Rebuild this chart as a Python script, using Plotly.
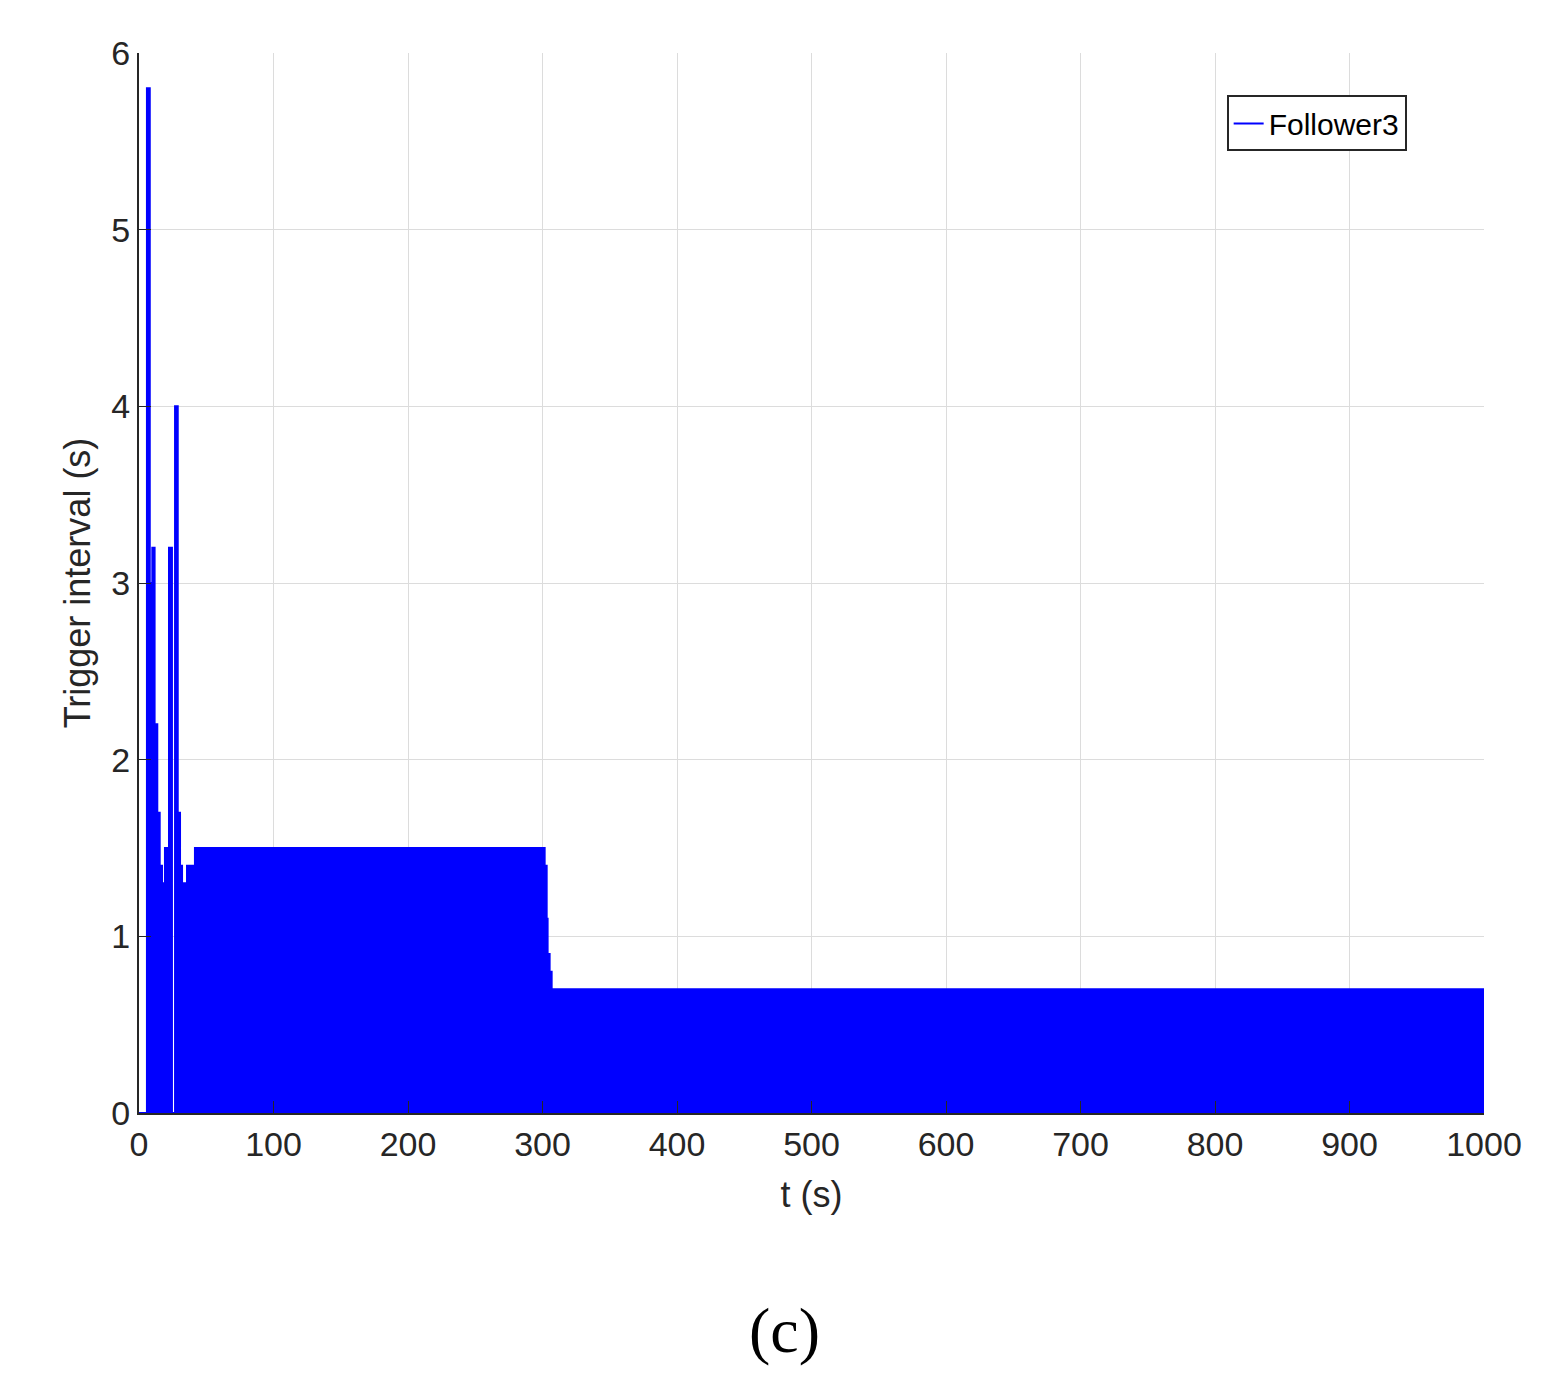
import plotly.graph_objects as go

# (start time, interval value) step segments; value 0 = no trigger
t_start = [0, 5.9, 8.0, 8.4, 9.9, 11.6, 13.6, 15.4, 17.1, 18.6, 19.3, 21.6, 22.3, 24.5, 26.8,
           28.8, 30.5, 32.0, 35.7, 41.6, 301.6, 303.1, 303.8, 305.3, 306.8, 310.3, 311.5, 1000]
values = [0, 5.8, 0, 3.0, 3.2, 2.2, 1.7, 1.4, 1.3, 1.2, 1.5, 0, 3.2, 0, 4.0,
          1.7, 1.4, 1.3, 1.4, 1.5, 1.4, 1.1, 0.9, 0.8, 0.7, 0.6, 0.7, 0.7]

fig = go.Figure()
fig.add_trace(go.Scatter(x=t_start, y=values, mode="lines", line=dict(shape="hv", color="#0000ff", width=2),
                         fill="tozeroy", fillcolor="#0000ff", name="Follower3", showlegend=False))
fig.add_trace(go.Scatter(x=[None], y=[None], mode="lines", line=dict(color="#0000ff", width=2), name="Follower3"))

axfont = dict(family="Liberation Sans, Arial", size=34, color="#262626")
fig.update_layout(
    width=1555, height=1389, plot_bgcolor="white", paper_bgcolor="white",
    margin=dict(l=131, r=79, t=45, b=284),
    font=axfont,
    xaxis=dict(range=[0, 1000], tickvals=list(range(0, 1001, 100)), showgrid=True, gridcolor="#dcdcdc",
               showline=True, linecolor="#262626", linewidth=2, mirror=False, ticks="inside", ticklen=12,
               tickcolor="#262626", zeroline=False,
               title=dict(text="t (s)", font=dict(size=36, color="#262626"), standoff=20)),
    yaxis=dict(range=[0, 6], tickvals=list(range(0, 7)), showgrid=True, gridcolor="#dcdcdc",
               showline=True, linecolor="#262626", linewidth=2, ticks="inside", ticklen=12,
               tickcolor="#262626", zeroline=False,
               title=dict(text="Trigger interval (s)", font=dict(size=36, color="#262626"), standoff=10)),
    legend=dict(x=0.9425, y=0.96, xanchor="right", yanchor="top", bgcolor="white",
                bordercolor="#262626", borderwidth=2, font=dict(size=30, color="black")),
    annotations=[dict(text="(c)", x=0.5, y=1320, xref="paper", yref="paper", showarrow=False)],
)
fig.layout.annotations = [dict(text="(c)", x=0.48, y=-0.205, xref="paper", yref="paper", showarrow=False,
                               yanchor="middle", font=dict(family="Liberation Serif, Times New Roman", size=64, color="black"))]
fig.write_html("out.html")
